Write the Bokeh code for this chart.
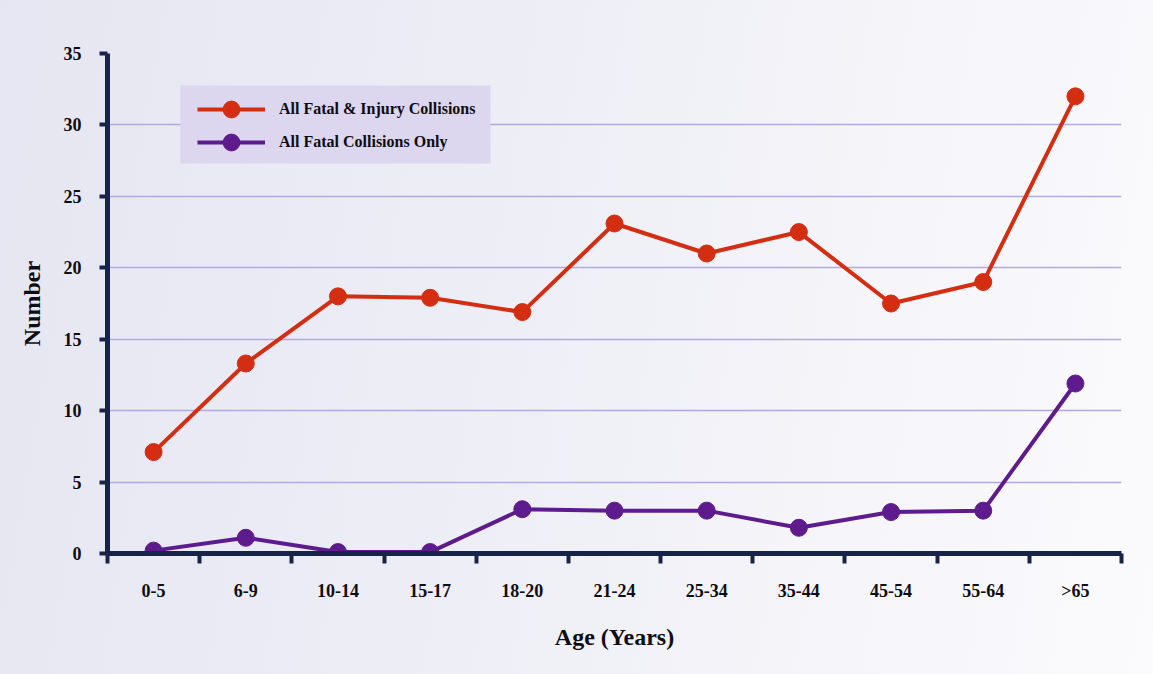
from bokeh.plotting import figure
from bokeh.models import FixedTicker, Legend, LegendItem, BoxAnnotation
from bokeh.embed import file_html
from bokeh.resources import INLINE

categories = ["0-5", "6-9", "10-14", "15-17", "18-20", "21-24", "25-34", "35-44", "45-54", "55-64", ">65"]
fatal_injury = [7.1, 13.3, 18.0, 17.9, 16.9, 23.1, 21.0, 22.5, 17.5, 19.0, 32.0]
fatal_only = [0.2, 1.1, 0.1, 0.1, 3.1, 3.0, 3.0, 1.8, 2.9, 3.0, 11.9]
y_ticks = [0, 5, 10, 15, 20, 25, 30, 35]
series_names = ["All Fatal & Injury Collisions", "All Fatal Collisions Only"]

FONT = "Liberation Serif"
AXIS = "#18234a"
RED = "#d42e12"
PURPLE = "#5e1b8e"
TXT = "#0d0d12"

W, H = 1153, 674
BL, BR, BT, BB = 107, 32, 53, 121
FW, FH = W - BL - BR, H - BT - BB
YMAX = 35

xs = [i + 0.5 for i in range(len(categories))]

p = figure(width=W, height=H, output_backend="svg", toolbar_location=None,
           x_range=(0, len(categories)), y_range=(0, YMAX),
           min_border_left=BL, min_border_right=BR, min_border_top=BT, min_border_bottom=BB)
p.styles = {"background": "linear-gradient(100deg, #e6e6f2 0%, #eeeef6 45%, #fbfbfd 100%)"}
p.background_fill_alpha = 0
p.border_fill_alpha = 0
p.outline_line_color = None

# legend background box (pixel layout converted to data space)
def px_x(px):
    return (px - BL) / FW * len(categories)

def px_y(py):
    return (BT + FH - py) / FH * YMAX

p.add_layout(BoxAnnotation(left=px_x(180), right=px_x(490), top=px_y(85), bottom=px_y(163),
                           fill_color="#dcd6ef", fill_alpha=1, line_alpha=0, level="underlay"))

# grid
p.xgrid.visible = False
p.ygrid.ticker = FixedTicker(ticks=y_ticks)
p.ygrid.grid_line_color = "#b2a9e0"
p.ygrid.grid_line_width = 1.5

# x axis
xa = p.xaxis[0]
xa.ticker = FixedTicker(ticks=xs, minor_ticks=list(range(len(categories) + 1)))
xa.major_label_overrides = {x: c for x, c in zip(xs, categories)}
xa.major_tick_out = 0
xa.major_tick_in = 0
xa.minor_tick_out = 10
xa.minor_tick_in = 0
xa.minor_tick_line_width = 4
xa.minor_tick_line_color = AXIS
xa.axis_line_width = 5
xa.axis_line_color = AXIS
xa.major_label_standoff = 17
xa.major_label_text_font = FONT
xa.major_label_text_font_size = "18px"
xa.major_label_text_font_style = "bold"
xa.major_label_text_color = TXT
xa.axis_label = "Age (Years)"
xa.axis_label_text_font = FONT
xa.axis_label_text_font_size = "24px"
xa.axis_label_text_font_style = "bold"
xa.axis_label_text_color = TXT
xa.axis_label_standoff = 20

# y axis
ya = p.yaxis[0]
ya.ticker = FixedTicker(ticks=y_ticks, minor_ticks=[])
ya.major_tick_out = 8
ya.major_tick_in = 0
ya.major_tick_line_width = 4
ya.major_tick_line_color = AXIS
ya.axis_line_width = 5
ya.axis_line_color = AXIS
ya.major_label_standoff = 18
ya.major_label_text_font = FONT
ya.major_label_text_font_size = "18px"
ya.major_label_text_font_style = "bold"
ya.major_label_text_color = TXT
ya.axis_label = "Number"
ya.axis_label_text_font = FONT
ya.axis_label_text_font_size = "24px"
ya.axis_label_text_font_style = "bold"
ya.axis_label_text_color = TXT
ya.axis_label_standoff = 16

r1l = p.line(xs, fatal_injury, line_color=RED, line_width=4)
r1s = p.scatter(xs, fatal_injury, size=17, fill_color=RED, line_color=RED)
r2l = p.line(xs, fatal_only, line_color=PURPLE, line_width=4)
r2s = p.scatter(xs, fatal_only, size=17, fill_color=PURPLE, line_color=PURPLE)

def make_legend(label, rends, center_py):
    top = center_py - 24
    bottom = top + 48
    lg = Legend(items=[LegendItem(label=label, renderers=rends)],
                location=(194 - BL, BT + FH - bottom))
    lg.margin = 0
    lg.padding = 3
    lg.spacing = 0
    lg.glyph_width = 68
    lg.glyph_height = 42
    lg.label_height = 20
    lg.label_standoff = 14
    lg.label_text_font = FONT
    lg.label_text_font_size = "16px"
    lg.label_text_font_style = "bold"
    lg.label_text_color = TXT
    lg.background_fill_alpha = 0
    lg.border_line_alpha = 0
    return lg

p.add_layout(make_legend(series_names[0], [r1l, r1s], 109), "center")
p.add_layout(make_legend(series_names[1], [r2l, r2s], 142), "center")

open("out.html", "w").write(file_html(p, INLINE))
